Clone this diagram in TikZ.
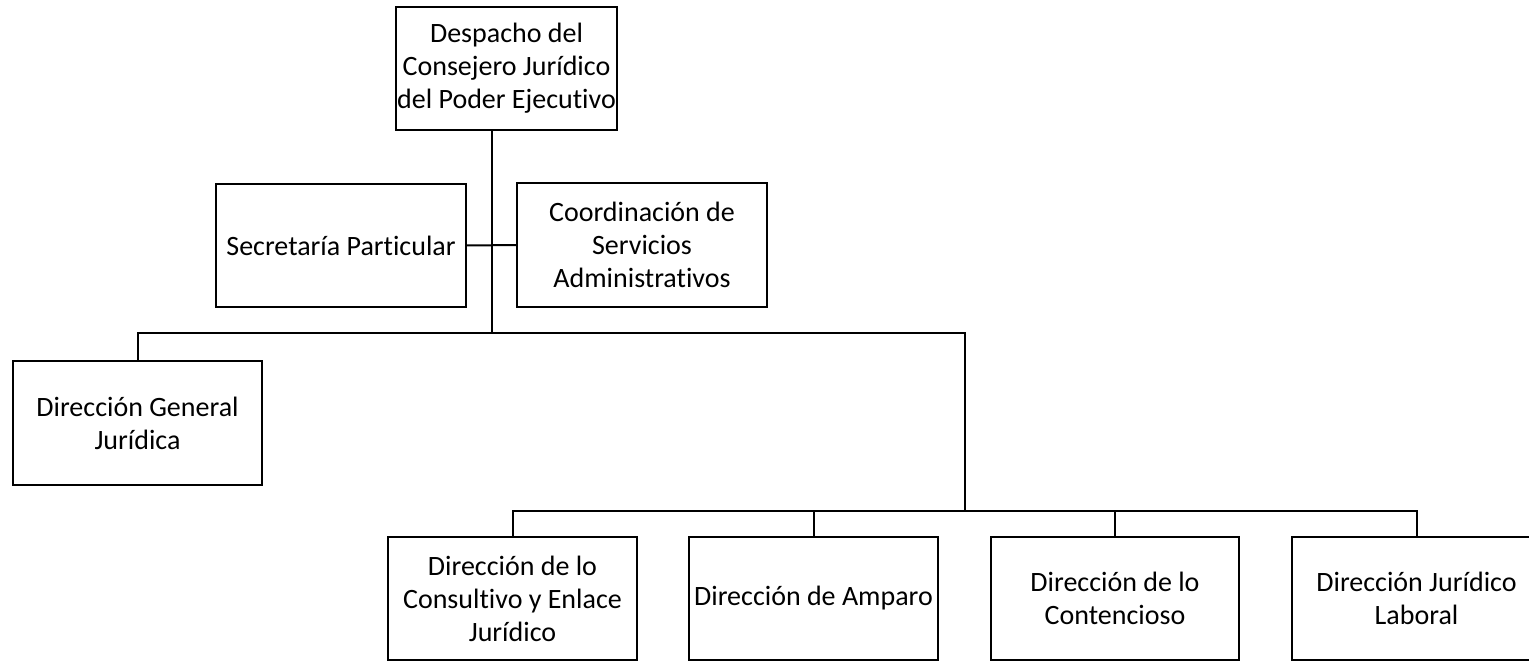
\documentclass[tikz,border=0pt]{standalone}
\usepackage{fontspec}
\setmainfont[RawFeature={-liga;-dlig}]{Carlito}
\begin{document}
\begin{tikzpicture}[x=0.75pt,y=-0.75pt,
  box/.style={draw=black,line width=1.5pt,inner sep=0pt,outer sep=0pt,align=center,
    font=\fontsize{21}{24.8}\selectfont},
  conn/.style={draw=black,line width=1.5pt}]
\useasboundingbox (0,0) rectangle (1529,661);
\node[box,minimum width=165.75pt,minimum height=92.25pt] (top) at (506.5,68.5)
  {Despacho del\\Consejero Jurídico\\del Poder Ejecutivo};
\node[box,minimum width=187.5pt,minimum height=92.25pt] (sec) at (341,245.5)
  {Secretaría Particular};
\node[box,minimum width=187.5pt,minimum height=93pt] (coo) at (642,245)
  {Coordinación de\\Servicios\\Administrativos};
\node[box,minimum width=186.75pt,minimum height=93pt] (dgj) at (137.5,423)
  {Dirección General\\Jurídica};
\node[box,minimum width=186.75pt,minimum height=92.25pt] (b1) at (512.5,598.5)
  {Dirección de lo\\Consultivo y Enlace\\Jurídico};
\node[box,minimum width=186.75pt,minimum height=92.25pt] (b2) at (813.5,598.5)
  {Dirección de Amparo};
\node[box,minimum width=186pt,minimum height=92.25pt] (b3) at (1115,598.5)
  {Dirección de lo\\Contencioso};
\node[box,minimum width=186.75pt,minimum height=92.25pt] (b4) at (1416.5,598.5)
  {Dirección Jurídico\\Laboral};
\coordinate (j1) at (492,333);
\coordinate (j2) at (965,333);
\coordinate (j3) at (965,511);
\draw[conn] (top.south -| j1) -- (j1);
\draw[conn] (sec.east) -- (coo.west);
\draw[conn] (dgj.north) |- (j2) -- (j3);
\draw[conn] (b1.north) |- (j3) -| (b4.north);
\draw[conn] (b2.north) |- (j3);
\draw[conn] (b3.north) |- (j3);
\end{tikzpicture}
\end{document}
